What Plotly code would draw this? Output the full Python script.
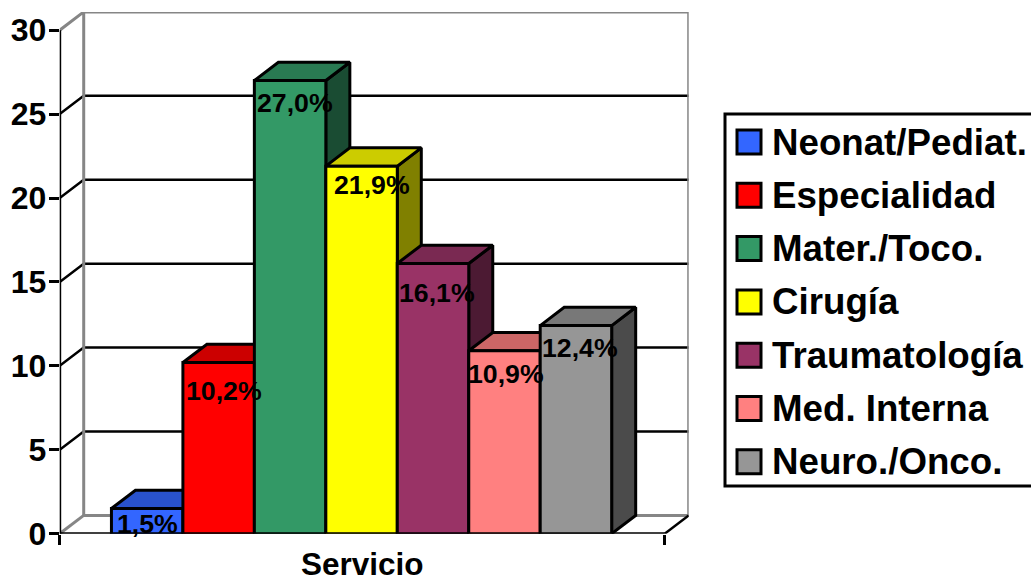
import plotly.graph_objects as go

# ---- data ----
categories = ["Neonat/Pediat.", "Especialidad", "Mater./Toco.", "Cirugía",
              "Traumatología", "Med. Interna", "Neuro./Onco."]
values = [1.5, 10.2, 27.0, 21.9, 16.1, 10.9, 12.4]
y_ticks = [0, 5, 10, 15, 20, 25, 30]
axis_title = "Servicio"

# ---- styles ----
front_colors = ["#3366FF", "#FF0000", "#339966", "#FFFF00", "#993366", "#FF8080", "#969696"]
W, H = 1031, 582
FONT = "Liberation Sans"
X_MIN, X_MAX = -1.224, 7.242     # front floor extent, in bar units
Y_MAX = 30
DX, DY = 0.336, 1.09             # oblique depth, in axis units
LABEL_NUDGE = [(0, 15), (5, 28), (5, 22), (10, 19), (4, 30), (2, 23), (4, 22)]
PX_X = (664 - 59) / (X_MAX - X_MIN)
PX_Y = (533 - 29.5) / Y_MAX
LEFT, BOTTOM, TOP = 59.7, 533.7, 30.2


def shade(hex_color, k):
    r, g, b = (int(hex_color[i:i + 2], 16) for i in (1, 3, 5))
    return f"rgb({round(r * k)},{round(g * k)},{round(b * k)})"


fig = go.Figure()


def line(xs, ys, color, width=3):
    fig.add_trace(go.Scatter(x=xs, y=ys, mode="lines", showlegend=False,
                             hoverinfo="skip", line=dict(color=color, width=width)))


def face(xs, ys, color):
    fig.add_trace(go.Scatter(x=xs, y=ys, mode="lines", fill="toself", fillcolor=color,
                             showlegend=False, hoverinfo="skip",
                             line=dict(color="black", width=3)))


# grid on back wall and left wall
for t in y_ticks[1:-1]:
    line([X_MIN, X_MIN + DX, X_MAX + DX], [t, t + DY, t + DY], "black", 2.5)
# walls
GREY = "#868686"
line([X_MIN, X_MIN + DX, X_MAX + DX, X_MAX + DX, X_MIN + DX, X_MIN + DX],
     [Y_MAX, Y_MAX + DY, Y_MAX + DY, DY, DY, Y_MAX + DY], GREY, 3)
line([X_MIN, X_MIN + DX], [0, DY], GREY, 3)
line([X_MAX, X_MAX + DX], [0, DY], "black", 2.5)
# front axis lines
line([X_MIN, X_MIN], [0, Y_MAX], "black", 3)
line([X_MIN, X_MAX], [0, 0], "black", 3)

# oblique faces, left to right so that each bar covers its neighbour's side
for i, v in enumerate(values):
    l, r = i - 0.5, i + 0.5
    face([r, r + DX, r + DX, r, r], [0, DY, v + DY, v, 0], shade(front_colors[i], 0.5))
    face([l, l + DX, r + DX, r, l], [v, v + DY, v + DY, v, v], shade(front_colors[i], 0.8))

# front faces, on the overlaid axes so that they paint above
fig.add_trace(go.Bar(x=list(range(len(values))), y=values, width=1.0, xaxis="x2", yaxis="y2",
                     marker=dict(color=front_colors, line=dict(color="black", width=3)),
                     showlegend=False, hoverinfo="skip"))

# value labels
annotations = []
for i, v in enumerate(values):
    nx, ny = LABEL_NUDGE[i]
    annotations.append(dict(x=i, y=v, xref="x2", yref="y2", xshift=nx, yshift=-ny,
                            text=f"{v:.1f}%".replace(".", ","), showarrow=False,
                            xanchor="center", yanchor="middle",
                            font=dict(family=FONT, size=26.7, color="black", weight=700)))

# axis title, centred under the front floor edge
annotations.append(dict(x=(X_MIN + X_MAX) / 2, y=0, xref="x", yref="y", yshift=-30,
                        text=axis_title, showarrow=False, xanchor="center", yanchor="middle",
                        font=dict(family=FONT, size=31.5, color="black", weight=700)))

# legend box
shapes = [dict(type="rect", xref="paper", yref="paper", x0=725 / W, x1=1040 / W,
               y0=1 - 486 / H, y1=1 - 114 / H, line=dict(color="black", width=3),
               fillcolor="white", layer="above")]
for i, c in enumerate(categories):
    cy = 142 + i * 53.3
    shapes.append(dict(type="rect", xref="paper", yref="paper", x0=737 / W, x1=761 / W,
                       y0=1 - (cy + 12) / H, y1=1 - (cy - 12) / H,
                       line=dict(color="black", width=3), fillcolor=front_colors[i], layer="above"))
    annotations.append(dict(x=770 / W, y=1 - cy / H, xref="paper", yref="paper", text=c,
                            showarrow=False, xanchor="left", yanchor="middle",
                            font=dict(family=FONT, size=36.7, color="black", weight=700)))

# plot area reaches the back wall, so nothing needs to be drawn outside it
x_top = X_MAX + DX
y_top = Y_MAX + DY
common_x = dict(range=[X_MIN, x_top], domain=[LEFT / W, (LEFT + 605 + DX * PX_X) / W])
common_y = dict(range=[0, y_top], domain=[1 - BOTTOM / H, 1 - (TOP - DY * PX_Y) / H])

fig.update_layout(
    width=W, height=H, margin=dict(l=0, r=0, t=0, b=0, autoexpand=False),
    paper_bgcolor="white", plot_bgcolor="rgba(0,0,0,0)",
    font=dict(family=FONT, color="black"),
    showlegend=False, annotations=annotations, shapes=shapes,
    xaxis=dict(**common_x, tickmode="array", tickvals=[X_MIN, X_MAX], ticktext=["", ""],
               ticks="outside", ticklen=10, tickwidth=2.5, tickcolor="black",
               showline=False, showgrid=False, zeroline=False),
    yaxis=dict(**common_y, tickmode="array", tickvals=y_ticks, ticklabelstandoff=-4,
               ticks="outside", ticklen=10, tickwidth=2.5, tickcolor="black",
               showline=False, showgrid=False, zeroline=False,
               tickfont=dict(family=FONT, size=32, color="black", weight=700)),
    xaxis2=dict(**common_x, overlaying="x", visible=False),
    yaxis2=dict(**common_y, overlaying="y", visible=False),
)

fig.write_html("out.html", config={"displayModeBar": False},
               post_script="document.body.style.margin='0';document.documentElement.style.overflow='hidden';")
